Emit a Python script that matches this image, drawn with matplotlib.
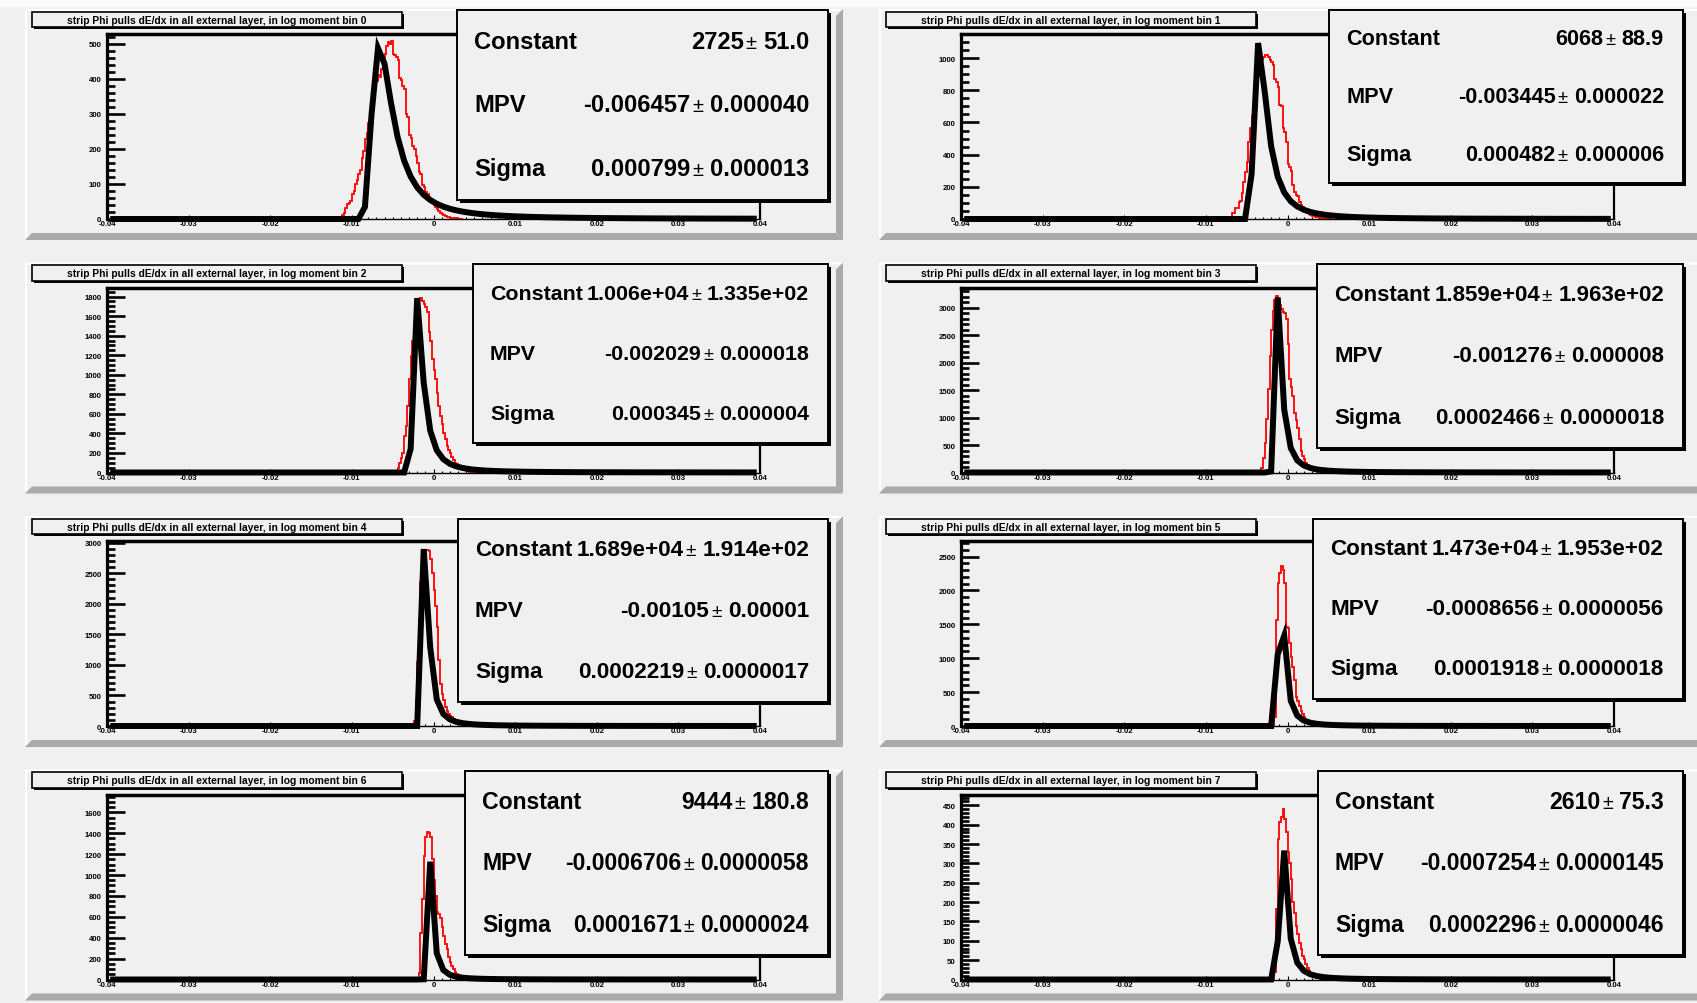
import math
import numpy as np
import matplotlib
matplotlib.use("Agg")
import matplotlib.pyplot as plt
from matplotlib.patches import Rectangle, Polygon
from matplotlib.ticker import MultipleLocator, FixedLocator, FixedFormatter, FormatStrFormatter
from matplotlib import font_manager

# ------------------------------------------------------------------ data
panel_titles = [
    "strip Phi pulls dE/dx in all external layer, in log moment bin 0",
    "strip Phi pulls dE/dx in all external layer, in log moment bin 1",
    "strip Phi pulls dE/dx in all external layer, in log moment bin 2",
    "strip Phi pulls dE/dx in all external layer, in log moment bin 3",
    "strip Phi pulls dE/dx in all external layer, in log moment bin 4",
    "strip Phi pulls dE/dx in all external layer, in log moment bin 5",
    "strip Phi pulls dE/dx in all external layer, in log moment bin 6",
    "strip Phi pulls dE/dx in all external layer, in log moment bin 7",
]

bin_width = 0.0002
hist_start = [-0.0112, -0.0068, -0.0044, -0.0032, -0.0024, -0.0018, -0.0018, -0.0016]

hist_counts_0 = [12, 18, 30, 42, 45, 52, 70, 80, 100, 110, 128, 140, 175, 195, 228, 245,
                 275, 300, 330, 352, 380, 395, 412, 405, 428, 440, 470, 495, 505, 500, 508,
                 472, 468, 462, 455, 402, 396, 380, 370, 300, 290, 240, 232, 208, 200, 180,
                 160, 135, 128, 98, 90, 78, 72, 60, 55, 48, 40, 35, 28, 22, 18, 14, 11, 8,
                 7, 5, 4, 3, 3, 2, 2, 1, 1, 1]
hist_counts_1 = [35, 40, 66, 70, 107, 110, 159, 232, 294, 356, 480, 563, 640, 720, 800, 870,
                 930, 960, 990, 1010, 1018, 1020, 1008, 990, 977, 956, 873, 850, 822, 708,
                 700, 563, 542, 480, 345, 325, 300, 211, 170, 149, 140, 107, 90, 76, 55, 50,
                 35, 30, 25, 20, 16, 12, 10, 8, 6, 5, 4, 3, 2, 2, 1]
hist_counts_2 = [48, 99, 150, 202, 372, 475, 680, 954, 1193, 1350, 1500, 1620, 1700, 1760,
                 1790, 1757, 1720, 1689, 1638, 1433, 1347, 1159, 1050, 954, 817, 680, 577,
                 492, 407, 338, 270, 230, 202, 160, 133, 100, 82, 65, 50, 40, 30, 22, 16, 12,
                 9, 7, 5, 4, 3, 2, 1]
hist_counts_3 = [86, 269, 543, 969, 1517, 2126, 2600, 2950, 3150, 3210, 3150, 3050, 2980,
                 2920, 2900, 2797, 2340, 1700, 1550, 1395, 1091, 950, 817, 603, 389, 300,
                 238, 177, 130, 95, 70, 50, 36, 26, 18, 12, 8, 5, 3, 2, 1]
hist_counts_4 = [87, 420, 1050, 1750, 2350, 2700, 2850, 2880, 2870, 2860, 2723, 2504, 2229,
                 1954, 1624, 1076, 692, 527, 417, 306, 252, 198, 170, 142, 110, 85, 65, 50,
                 38, 28, 20, 14, 10, 7, 5, 3, 2, 1]
hist_counts_5 = [20, 128, 1565, 2110, 2259, 2357, 2300, 2110, 1465, 1450, 1218, 1019, 871,
                 673, 425, 376, 302, 227, 170, 130, 95, 70, 52, 38, 27, 19, 13, 9, 6, 4, 3,
                 2, 1]
hist_counts_6 = [60, 448, 768, 1183, 1360, 1408, 1400, 1360, 1150, 950, 800, 650, 624, 592,
                 500, 416, 336, 288, 220, 170, 130, 100, 75, 55, 40, 30, 22, 15, 10, 7, 5, 3,
                 2, 1]
hist_counts_7 = [20, 181, 363, 406, 421, 440, 414, 380, 330, 302, 259, 200, 173, 138, 117, 95,
                 78, 60, 52, 40, 30, 22, 16, 12, 9, 6, 4, 3, 2, 1]
hist_counts = [hist_counts_0, hist_counts_1, hist_counts_2, hist_counts_3,
               hist_counts_4, hist_counts_5, hist_counts_6, hist_counts_7]

# Landau fit results as printed in the stats boxes
fit_constant = ["2725", "6068", "1.006e+04", "1.859e+04", "1.689e+04", "1.473e+04", "9444", "2610"]
fit_constant_err = ["51.0", "88.9", "1.335e+02", "1.963e+02", "1.914e+02", "1.953e+02", "180.8", "75.3"]
fit_mpv = ["-0.006457", "-0.003445", "-0.002029", "-0.001276", "-0.00105", "-0.0008656",
           "-0.0006706", "-0.0007254"]
fit_mpv_err = ["0.000040", "0.000022", "0.000018", "0.000008", "0.00001", "0.0000056",
               "0.0000058", "0.0000145"]
fit_sigma = ["0.000799", "0.000482", "0.000345", "0.0002466", "0.0002219", "0.0001918",
             "0.0001671", "0.0002296"]
fit_sigma_err = ["0.000013", "0.000006", "0.000004", "0.0000018", "0.0000017", "0.0000018",
                 "0.0000024", "0.0000046"]
stat_names = ["Constant", "MPV", "Sigma"]

y_max = [528, 1150, 1893, 3372, 3025, 2730, 1771, 478]
y_major = [100, 200, 200, 500, 500, 500, 200, 50]
y_minor = [20, 50, 50, 100, 100, 100, 50, 10]
x_min, x_max = -0.04, 0.04
x_ticks = [-0.04, -0.03, -0.02, -0.01, 0.0, 0.01, 0.02, 0.03, 0.04]
x_tick_labels = ["-0.04", "-0.03", "-0.02", "-0.01", "0", "0.01", "0.02", "0.03", "0.04"]
fit_npx = 100

# ------------------------------------------------------------------ helpers
def denlan(v):
    """ROOT TMath::Landau (CERNLIB DENLAN) density."""
    p1 = [0.4259894875, -0.1249762550, 0.03984243700, -0.006298287635, 0.001511162253]
    q1 = [1.0, -0.3388260629, 0.09594393323, -0.01608042283, 0.003778942063]
    p2 = [0.1788541609, 0.1173957403, 0.01488850518, -0.001394989411, 0.0001283617211]
    q2 = [1.0, 0.7428795082, 0.3153932961, 0.06694219548, 0.008790609714]
    p3 = [0.1788544503, 0.09359161662, 0.006325387654, 0.00006611667319, -0.000002031049101]
    q3 = [1.0, 0.6097809921, 0.2560616665, 0.04746722384, 0.006957301675]
    p4 = [0.9874054407, 118.6723273, 849.2794360, -743.7792444, 427.0262186]
    q4 = [1.0, 106.8615961, 337.6496214, 2016.712389, 1597.063511]
    p5 = [1.003675074, 167.5702434, 4789.711289, 21217.86767, -22324.94910]
    q5 = [1.0, 156.9424537, 3745.310488, 9834.698876, 66924.28357]
    p6 = [1.000827619, 664.9143136, 62972.92665, 475554.6998, -5743609.109]
    q6 = [1.0, 651.4101098, 56974.73333, 165917.4725, -2815759.939]
    a1 = [0.04166666667, -0.01996527778, 0.02709538966]
    a2 = [-1.845568670, -4.284640743]

    def poly(c, t):
        return c[0] + (c[1] + (c[2] + (c[3] + c[4] * t) * t) * t) * t

    if v < -5.5:
        u = math.exp(v + 1.0)
        if u < 1e-10:
            return 0.0
        ue = math.exp(-1 / u)
        us = math.sqrt(u)
        return 0.3989422803 * (ue / us) * (1 + (a1[0] + (a1[1] + a1[2] * u) * u) * u)
    elif v < -1:
        u = math.exp(-v - 1)
        return math.exp(-u) * math.sqrt(u) * poly(p1, v) / poly(q1, v)
    elif v < 1:
        return poly(p2, v) / poly(q2, v)
    elif v < 5:
        return poly(p3, v) / poly(q3, v)
    elif v < 12:
        u = 1 / v
        return u * u * poly(p4, u) / poly(q4, u)
    elif v < 50:
        u = 1 / v
        return u * u * poly(p5, u) / poly(q5, u)
    elif v < 300:
        u = 1 / v
        return u * u * poly(p6, u) / poly(q6, u)
    u = 1 / (v - v * math.log(v) / (v + 1))
    return u * u * (1 + (a2[0] + a2[1] * u) * u)


W, H = 1697, 1004
names = {f.name for f in font_manager.fontManager.ttflist}
FONT = "Liberation Sans Narrow" if "Liberation Sans Narrow" in names else "Liberation Sans"
FAM = [FONT, "DejaVu Sans"]

BG = "#f0f0f0"
fig = plt.figure(figsize=(W / 100, H / 100), dpi=100)
fig.patch.set_facecolor(BG)


def frac(x0, y0, x1, y1):
    return [x0 / W, 1 - y1 / H, (x1 - x0) / W, (y1 - y0) / H]


bg = fig.add_axes([0, 0, 1, 1], zorder=0)
bg.set_xlim(0, W)
bg.set_ylim(H, 0)
bg.axis("off")
ov = fig.add_axes([0, 0, 1, 1], zorder=5)
ov.set_xlim(0, W)
ov.set_ylim(H, 0)
ov.axis("off")
ov.patch.set_alpha(0)
renderer = fig.canvas.get_renderer()


def text_width(s, size, weight):
    t = ov.text(0, 0, s, fontsize=size, fontweight=weight, family=FAM)
    w = t.get_window_extent(renderer).width
    t.remove()
    return w


# canvas top highlight
bg.add_patch(Rectangle((0, 0), W, 8, facecolor="#fbfbfb", edgecolor="none"))

PAD_H = 231
stat_boxes = [(457, 11, 828, 201), (1329, 11, 1683, 184),
              (473, 265, 828, 444), (1317, 265, 1683, 449),
              (458, 520, 828, 703), (1313, 520, 1683, 700),
              (465, 772, 828, 956), (1318, 772, 1683, 956)]

for p in range(8):
    col, row = p % 2, p // 2
    px0 = 25 + 854 * col
    pad_w = 818 if col == 0 else 840
    py0 = 10 + 253.5 * row
    px1, py1 = px0 + pad_w, py0 + PAD_H
    # pad with bevel
    bg.add_patch(Rectangle((px0, py0), pad_w, PAD_H, facecolor=BG, edgecolor="none"))
    b = 2
    bg.add_patch(Polygon([(px0, py0), (px1, py0), (px1 - b, py0 + b), (px0 + b, py0 + b)],
                         closed=True, facecolor="white", edgecolor="none"))
    bg.add_patch(Polygon([(px0, py0), (px0 + b, py0 + b), (px0 + b, py1 - b), (px0, py1)],
                         closed=True, facecolor="white", edgecolor="none"))
    s = 7
    bg.add_patch(Polygon([(px0, py1), (px1, py1), (px1 - s, py1 - s), (px0 + s, py1 - s)],
                         closed=True, facecolor="#aaaaaa", edgecolor="none"))
    bg.add_patch(Polygon([(px1, py0), (px1, py1), (px1 - s, py1 - s), (px1 - s, py0 + s)],
                         closed=True, facecolor="#aaaaaa", edgecolor="none"))

    # frame
    fx0, fx1 = px0 + 82, px0 + 735
    fy0, fy1 = py0 + 25, py0 + 210
    ax = fig.add_axes(frac(fx0, fy0, fx1, fy1), zorder=1)
    ax.set_facecolor(BG)
    ax.set_xlim(x_min, x_max)
    ax.set_ylim(0, y_max[p])

    edges = hist_start[p] + bin_width * np.arange(len(hist_counts[p]) + 1)
    ax.stairs(hist_counts[p], edges, color="#ff0000", lw=1.3, zorder=2)

    const = float(fit_constant[p])
    mpv = float(fit_mpv[p])
    sig = float(fit_sigma[p])
    dx = (x_max - x_min) / fit_npx
    xs = x_min + dx * (np.arange(fit_npx) + 0.5)
    ys = np.array([const * denlan((x - mpv) / sig) for x in xs])
    ax.plot(xs, ys, color="black", lw=4.3, solid_joinstyle="miter",
            solid_capstyle="butt", zorder=3, clip_on=False)

    for side, lw in (("left", 2.3), ("top", 2.5), ("right", 1.6), ("bottom", 1.0)):
        ax.spines[side].set_linewidth(lw)
        ax.spines[side].set_color("black")

    ax.yaxis.set_major_locator(MultipleLocator(y_major[p]))
    ax.yaxis.set_minor_locator(MultipleLocator(y_minor[p]))
    ax.yaxis.set_major_formatter(FormatStrFormatter("%d"))
    ax.xaxis.set_major_locator(FixedLocator(x_ticks))
    ax.xaxis.set_major_formatter(FixedFormatter(x_tick_labels))
    ax.xaxis.set_minor_locator(MultipleLocator(0.001))
    ax.tick_params(axis="y", which="major", direction="in", length=13, width=1.9,
                   labelsize=5.6, pad=4)
    ax.tick_params(axis="y", which="minor", direction="in", length=6, width=1.9)
    ax.tick_params(axis="x", which="major", direction="in", length=3, width=0.8,
                   labelsize=5.6, pad=1)
    ax.tick_params(axis="x", which="minor", direction="in", length=1.6, width=0.8)
    for lab in ax.get_xticklabels() + ax.get_yticklabels():
        lab.set_family(FAM)
        lab.set_fontweight("bold")

    # title box
    tx0, ty0, tx1, ty1 = px0 + 7, py0 + 2.5, px0 + 377, py0 + 18
    ov.add_patch(Rectangle((tx0 + 2, ty0 + 2), tx1 - tx0, ty1 - ty0, facecolor="black",
                           edgecolor="none"))
    ov.add_patch(Rectangle((tx0, ty0), tx1 - tx0, ty1 - ty0, facecolor=BG,
                           edgecolor="black", lw=1.2))
    ov.text((tx0 + tx1) / 2, (ty0 + ty1) / 2 + 0.5, panel_titles[p], ha="center",
            va="center", fontsize=7.4, fontweight="bold", family=FAM)

    # stats box
    sx0, sy0, sx1, sy1 = stat_boxes[p]
    ov.add_patch(Rectangle((sx0 + 2.5, sy0 + 2.5), sx1 - sx0, sy1 - sy0, facecolor="black",
                           edgecolor="none"))
    ov.add_patch(Rectangle((sx0, sy0), sx1 - sx0, sy1 - sy0, facecolor=BG,
                           edgecolor="black", lw=1.4))
    vals = [(fit_constant[p], fit_constant_err[p]), (fit_mpv[p], fit_mpv_err[p]),
            (fit_sigma[p], fit_sigma_err[p])]
    hbox = sy1 - sy0
    xl, xr = sx0 + 17, sx1 - 19
    size = 16.2 * hbox / 180.0
    for _ in range(3):
        need = 0
        for nm, (v, e) in zip(stat_names, vals):
            tot = (text_width(nm, size, "bold") + 3 + text_width(v, size, "bold") + 2
                   + text_width("\u00b1", size * 0.85, "normal") + 6
                   + text_width(e, size, "bold"))
            need = max(need, tot)
        if need <= xr - xl:
            break
        size *= (xr - xl) / need * 0.995
    for k, (nm, (v, e)) in enumerate(zip(stat_names, vals)):
        yc = sy0 + hbox * (1 + 2 * k) / 6
        ov.text(xl, yc, nm, ha="left", va="center", fontsize=size,
                fontweight="bold", family=FAM)
        we = text_width(e, size, "bold")
        ov.text(xr, yc, e, ha="right", va="center", fontsize=size,
                fontweight="bold", family=FAM)
        xpm = xr - we - 6
        wpm = text_width("\u00b1", size * 0.85, "normal")
        ov.text(xpm, yc + 1, "\u00b1", ha="right", va="center", fontsize=size * 0.85,
                fontweight="normal", family=FAM)
        ov.text(xpm - wpm - 2, yc, v, ha="right", va="center", fontsize=size,
                fontweight="bold", family=FAM)

fig.savefig("out.png", dpi=100, facecolor=fig.get_facecolor())
